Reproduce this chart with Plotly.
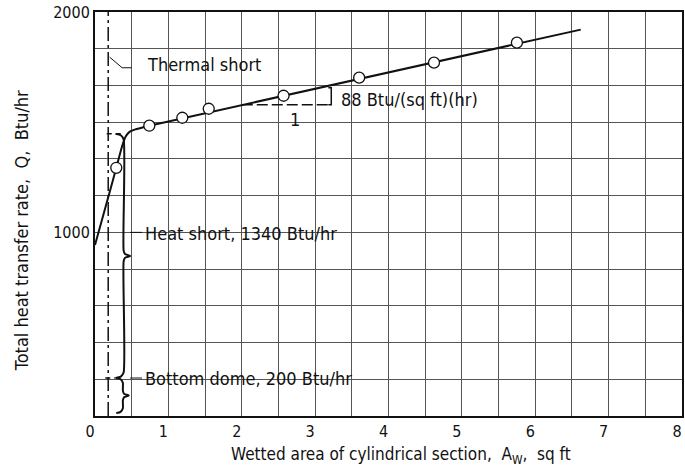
import plotly.graph_objects as go

# ---- data ----
area_pts = [0.29, 0.74, 1.19, 1.55, 2.57, 3.60, 4.62, 5.75]
q_pts = [1293, 1484, 1520, 1561, 1620, 1702, 1770, 1861]

curve_area = [0.0, 0.10, 0.20, 0.29, 0.37, 0.42, 0.47, 0.54, 0.74, 6.62]
curve_q = [943, 1063, 1183, 1293, 1392, 1436, 1456, 1466, 1484, 1920]

x_ticks = [0, 1, 2, 3, 4, 5, 6, 7, 8]
y_ticks = [1000, 2000]
y_min, y_max = 1000 - 5 * 1000 / 6, 2000
x_min, x_max = 0, 8

thermal_short_x = 0.18
heat_short_range = [339, 1447]      # brace extent
bottom_dome_range = [180, 339]
slope_run = [2.0, 3.22]
slope_rise = [1579, 1656]

FONT = "Liberation Sans Narrow, DejaVu Sans Condensed, sans-serif"
INK = "#111"


def brace(x, y0, y1, cusp, hook, d):
    ym = (y0 + y1) / 2
    xs = [x - hook, x - hook * 0.35, x, x, x + cusp * 0.2, x + cusp,
          x + cusp * 0.2, x, x, x - hook * 0.35, x - hook]
    ys = [y0, y0 + d * 0.25, y0 + d, ym - d, ym - d * 0.35, ym,
          ym + d * 0.35, ym + d, y1 - d, y1 - d * 0.25, y1]
    return xs, ys


fig = go.Figure()

# thermal short dash-dot vertical
fig.add_trace(go.Scatter(x=[thermal_short_x, thermal_short_x], y=[y_min, y_max],
                         mode="lines", line=dict(color=INK, width=1.5, dash="14px,4px,3px,4px"),
                         hoverinfo="skip", showlegend=False))

# braces
hx, hy = brace(0.39, heat_short_range[0], heat_short_range[1], 0.09, 0.11, 25)
fig.add_trace(go.Scatter(x=hx, y=hy, mode="lines", line=dict(color=INK, width=2, shape="spline", smoothing=0.6),
                         hoverinfo="skip", showlegend=False))
bx, by = brace(0.38, bottom_dome_range[0], bottom_dome_range[1], 0.08, 0.09, 22)
fig.add_trace(go.Scatter(x=bx, y=by, mode="lines", line=dict(color=INK, width=2, shape="spline", smoothing=0.6),
                         hoverinfo="skip", showlegend=False))

# small dashes at brace tops
for yv, xa, xb in [(heat_short_range[1], 0.16, 0.38), (bottom_dome_range[1], 0.14, 0.28)]:
    fig.add_trace(go.Scatter(x=[xa, xb], y=[yv, yv], mode="lines",
                             line=dict(color=INK, width=1.5, dash="5px,4px"),
                             hoverinfo="skip", showlegend=False))

# slope triangle
fig.add_trace(go.Scatter(x=[slope_run[0], slope_run[1]], y=[slope_rise[0], slope_rise[0]], mode="lines",
                         line=dict(color=INK, width=1.5, dash="11px,4px"), hoverinfo="skip", showlegend=False))
fig.add_trace(go.Scatter(x=[slope_run[1] - 0.04, slope_run[1], slope_run[1], slope_run[1] - 0.04],
                         y=[slope_rise[1], slope_rise[1], slope_rise[0], slope_rise[0]], mode="lines",
                         line=dict(color=INK, width=1.5), hoverinfo="skip", showlegend=False))

# leaders
fig.add_trace(go.Scatter(x=[0.20, 0.37, 0.50], y=[1795, 1747, 1747], mode="lines",
                         line=dict(color=INK, width=1), hoverinfo="skip", showlegend=False))
for yv in [1000, 339]:
    fig.add_trace(go.Scatter(x=[0.48, 0.64], y=[yv, yv], mode="lines",
                             line=dict(color=INK, width=1), hoverinfo="skip", showlegend=False))

# main curve and points
fig.add_trace(go.Scatter(x=curve_area, y=curve_q, mode="lines",
                         line=dict(color=INK, width=2, shape="spline", smoothing=0.4),
                         hoverinfo="skip", showlegend=False))
fig.add_trace(go.Scatter(x=area_pts, y=q_pts, mode="markers",
                         marker=dict(symbol="circle", size=11, color="white", line=dict(color=INK, width=1.3)),
                         showlegend=False))

tf = dict(family=FONT, size=18, color=INK)
titlef = dict(family=FONT, size=17, color=INK)
tickf = dict(family=FONT, size=16, color=INK)
ann = [
    dict(x=0.68, y=1761, text="Thermal short", xanchor="left", yanchor="middle"),
    dict(x=0.65, y=995, text="Heat short, 1340 Btu/hr", xanchor="left", yanchor="middle"),
    dict(x=0.65, y=339, text="Bottom dome, 200 Btu/hr", xanchor="left", yanchor="middle"),
    dict(x=3.33, y=1604, text="88 Btu/(sq ft)(hr)", xanchor="left", yanchor="middle"),
    dict(x=2.72, y=1511, text="1", xanchor="center", yanchor="middle"),
]
for a in ann:
    fig.add_annotation(**a, showarrow=False, font=tf)

fig.add_annotation(xref="paper", yref="paper", x=-0.124, y=0.458, textangle=-90,
                   text="Total heat transfer rate,\u00a0 Q,\u00a0 Btu/hr", showarrow=False,
                   font=tf, xanchor="center", yanchor="middle")
fig.add_annotation(xref="paper", yref="paper", x=0.521, y=-0.097,
                   text="Wetted area of cylindrical section,\u00a0 A<sub>W</sub>,\u00a0 sq ft", showarrow=False,
                   font=titlef, xanchor="center", yanchor="middle")

grid_col = "#555"
fig.update_xaxes(range=[x_min, x_max], tickvals=x_ticks, showgrid=True, gridcolor=grid_col, gridwidth=1,
                 minor=dict(dtick=0.5, tick0=0, showgrid=True, gridcolor=grid_col, gridwidth=1),
                 showline=True, linecolor=INK, linewidth=2, mirror=True, zeroline=False,
                 ticks="", tickfont=tickf, ticklabelshift=-5, automargin=False)
fig.update_yaxes(range=[y_min, y_max], tickvals=y_ticks, showgrid=True, gridcolor=grid_col, gridwidth=1,
                 minor=dict(dtick=1000 / 6, tick0=1000, showgrid=True, gridcolor=grid_col, gridwidth=1),
                 showline=True, linecolor=INK, linewidth=2, mirror=True, zeroline=False,
                 ticks="", tickfont=tickf, automargin=False)

fig.update_layout(width=685, height=468, margin=dict(l=95, r=3, t=12, b=52),
                  plot_bgcolor="white", paper_bgcolor="white", showlegend=False)

fig.write_html("out.html", config={"displayModeBar": False},
               post_script="document.body.style.margin='0';")
